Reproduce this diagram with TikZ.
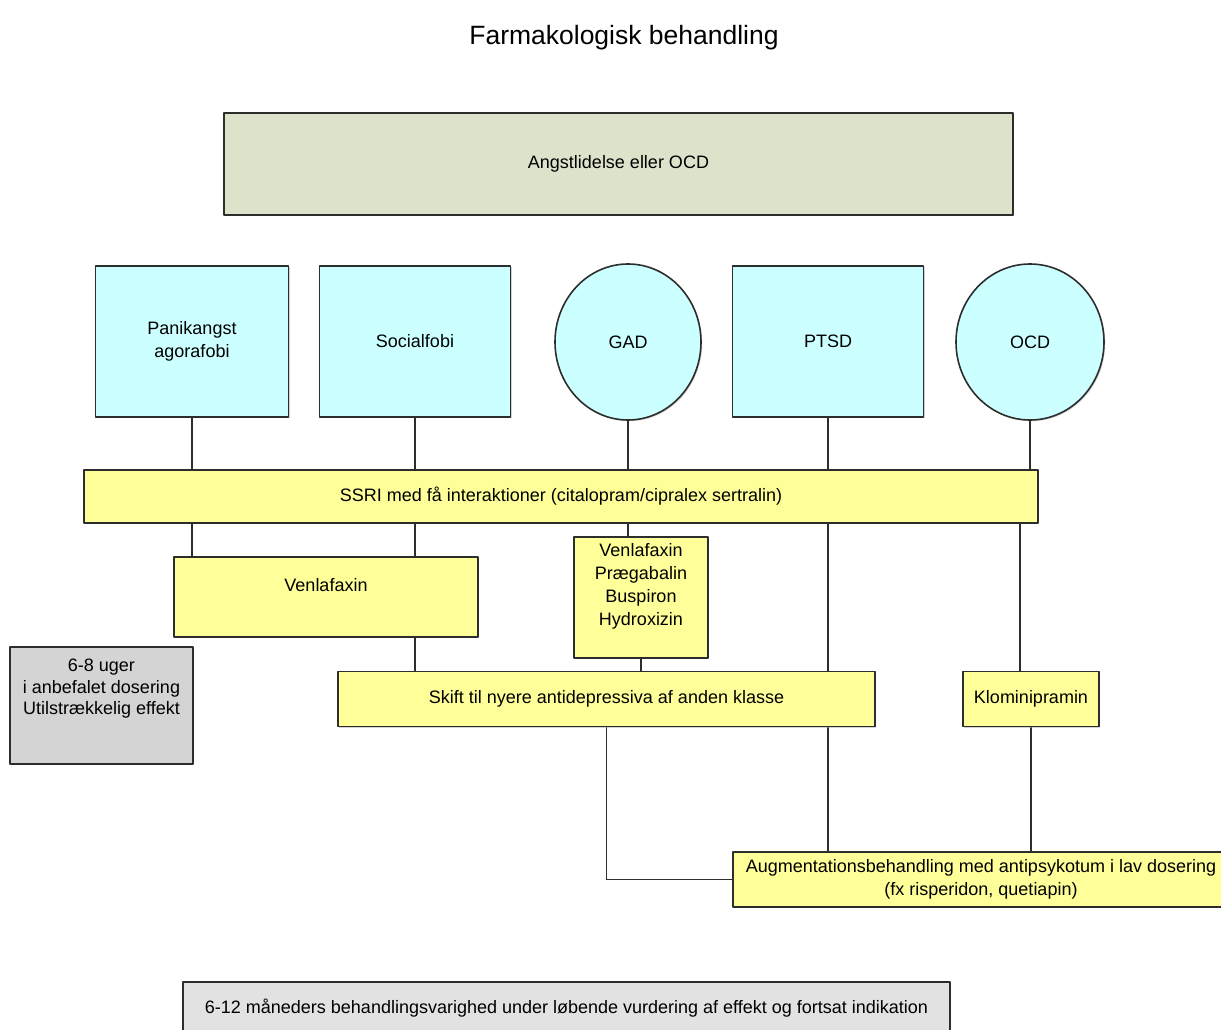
\documentclass[tikz,border=0pt]{standalone}
\usepackage{fontspec}
\setmainfont{Liberation Sans}
\usetikzlibrary{shapes.geometric,shadows,backgrounds}
\definecolor{sage}{RGB}{221,227,203}
\definecolor{lightcyan}{RGB}{204,255,255}
\definecolor{lightyellow}{RGB}{255,255,153}
\definecolor{boxgray}{RGB}{212,212,212}
\definecolor{palegray}{RGB}{226,226,226}
\definecolor{edge}{RGB}{45,45,45}
\begin{document}
\begin{tikzpicture}[x=1pt, y=-1pt, line join=round, line cap=round, font=\fontsize{18}{23}\selectfont]
	\tikzset{box/.style={draw=edge, line width=1.6pt, align=center, inner sep=0pt, drop shadow={shadow xshift=1.2pt, shadow yshift=-1.2pt, fill=black!35}},
		sq/.style={box, fill=lightcyan, minimum width=191, minimum height=151},
		rund/.style={box, ellipse, fill=lightcyan, minimum width=146, minimum height=156},
		gul/.style={box, fill=lightyellow},
		con/.style={draw=edge, line width=1.5pt}}
	\def\W{1221}\def\H{1030}
	\useasboundingbox (0,0) rectangle (\W,\H);
	\clip (0,0) rectangle (\W,\H);
	% titel og diagnose
	\node[font=\fontsize{26.5}{30}\selectfont] (titel) at (624,38) {Farmakologisk behandling};
	\node[box, fill=sage, minimum width=789, minimum height=102] (angst) at (618.5,164) {Angstlidelse eller OCD};
	% diagnoser
	\node[sq, minimum width=193] (pan) at (192,341.5) {Panikangst\\agorafobi};
	\node[sq] (soc) at (415,341.5) {Socialfobi};
	\node[rund] (gad) at (628,342) {GAD};
	\node[sq] (ptsd) at (828,341.5) {PTSD};
	\node[rund, minimum width=148] (ocd) at (1030,342) {OCD};
	% behandlinger
	\node[gul, minimum width=954, minimum height=53] (ssri) at (561,496.5) {SSRI med få interaktioner (citalopram/cipralex sertralin)};
	\node[gul, minimum width=304, minimum height=80, text depth=24pt] (ven) at (326,597) {Venlafaxin};
	\node[gul, minimum width=134, minimum height=121, text depth=26pt] (gadmed) at (641,597.5) {Venlafaxin\\Prægabalin\\Buspiron\\Hydroxizin};
	\node[box, fill=boxgray, minimum width=183, minimum height=117, text depth=37pt, font=\fontsize{18}{21.5}\selectfont] (uger) at (101.5,705.5) {6-8 uger\\i anbefalet dosering\\Utilstrækkelig effekt};
	\node[gul, minimum width=537, minimum height=55] (skift) at (606.5,699) {Skift til nyere antidepressiva af anden klasse};
	\node[gul, minimum width=136, minimum height=55] (klom) at (1031,699) {Klominipramin};
	\node[gul, minimum width=496, minimum height=55] (aug) at (981,879.5) {Augmentationsbehandling med antipsykotum i lav dosering\\(fx risperidon, quetiapin)};
	\node[box, fill=palegray, minimum width=767, minimum height=52] (varig) at (566.5,1008) {6-12 måneders behandlingsvarighed under løbende vurdering af effekt og fortsat indikation};
	% forbindelser
	\begin{pgfonlayer}{background}
	\foreach \n in {pan,soc,gad,ptsd,ocd}
		\draw[con] (\n.south) -- (\n.south |- ssri.north);
	\foreach \n in {pan,soc}
		\draw[con] (\n |- ssri.south) -- (\n |- ven.north);
	\draw[con] (gad |- ssri.south) -- (gad |- gadmed.north);
	\draw[con] (soc |- ven.south) -- (soc |- skift.north);
	\draw[con] (gadmed.south) -- (gadmed |- skift.north);
	\draw[con] (ptsd |- ssri.south) -- (ptsd |- aug.north);
	\draw[con] ([xshift=-11pt]klom.north) -- ([xshift=-11pt]klom.north |- ssri.south);
	\draw[con] (klom.south) -- (klom |- aug.north);
	\draw[con] (skift.south) |- (aug.west);
	\end{pgfonlayer}
\end{tikzpicture}
\end{document}
